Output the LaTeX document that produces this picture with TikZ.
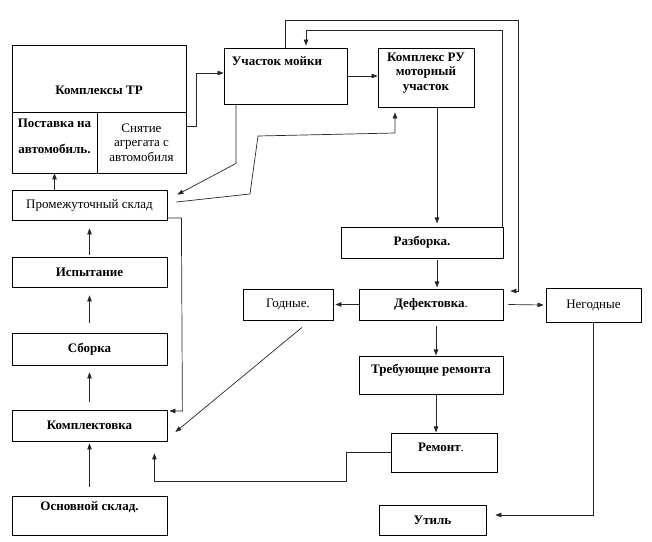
\documentclass[tikz,border=0pt]{standalone}
\usepackage{fontspec}
\setmainfont{Liberation Serif}
\usetikzlibrary{arrows.meta}

\tikzset{
  box/.style={draw=black, line width=0.8pt, inner sep=0pt},
  txt/.style={font=\fontsize{13}{14.5}\selectfont, align=center, inner sep=0pt},
  btxt/.style={txt, font=\fontsize{13}{14.5}\selectfont\bfseries},
  arr/.style={draw=black!85, line width=0.7pt, -{Triangle[length=6pt,width=4.5pt]}}
}

\begin{document}
\begin{tikzpicture}[x=1pt, y=-1pt]
    \useasboundingbox (0,0) rectangle (652,541);

    \node[box, minimum width=174, minimum height=67] (trtop) at (99,78.5) {};
    \node[btxt] (trtext) at (99,90) {Комплексы ТР};
    \node[box, minimum width=85, minimum height=61] (supply) at (54.5,142.5) {};
    \node[btxt] (supplytext) at (54.5,136.5) {Поставка на\\[12pt]автомобиль.};
    \node[box, txt, minimum width=89, minimum height=61] (removal) at (141.5,142.5) {Снятие\\агрегата с\\автомобиля};
    \node[box, txt, minimum width=155, minimum height=30] (store) at (89.5,205) {Промежуточный склад};

    \node[box, minimum width=123, minimum height=56] (wash) at (285.5,76) {};
    \node[btxt] (washtext) at (277,61) {Участок мойки};
    \node[box, minimum width=96, minimum height=59] (ru) at (426,77.5) {};
    \node[btxt] (rutext) at (426,73) {Комплекс РУ\\моторный\\участок};

    \node[box, btxt, minimum width=162, minimum height=31] (disasm) at (422,242.5) {Разборка.};
    \node[box, txt, minimum width=144, minimum height=31] (defect) at (431,304.5) {\textbf{Дефектовка}.};
    \node[box, txt, minimum width=90, minimum height=31] (good) at (288,304.5) {Годные.};
    \node[box, txt, minimum width=95, minimum height=34] (bad) at (593.5,305) {Негодные};
    \node[box, minimum width=144, minimum height=38] (needrep) at (431,375) {};
    \node[btxt] (needreptext) at (431,370) {Требующие ремонта};
    \node[box, minimum width=106, minimum height=39] (repair) at (444,452.5) {};
    \node[txt] (repairtext) at (441,447) {\textbf{Ремонт}.};
    \node[box, btxt, minimum width=107, minimum height=30] (scrap) at (432.5,520) {Утиль};

    \node[box, btxt, minimum width=155, minimum height=30] (test) at (89.5,272) {Испытание};
    \node[box, btxt, minimum width=155, minimum height=32] (asm) at (89.5,349) {Сборка};
    \node[box, btxt, minimum width=155, minimum height=31] (kit) at (89.5,425.5) {Комплектовка};
    \node[box, minimum width=155, minimum height=39] (mainstore) at (89.5,515.5) {};
    \node[btxt] (mainstoretext) at (89.5,507) {Основной склад.};

    \draw[arr] (supply.south |- store.north) -- (supply.south);
    \draw[arr] ([shift={(0,-16.5)}]removal.east) -- ++(10,0) |- ([shift={(0,-3)}]wash.west);
    \draw[arr] (wash.east) -- (ru.west |- wash.east);
    \draw[arr] ([shift={(-49.5,0)}]wash.south) -- ++(0,59) -- ([shift={(10,5)}]store.north east);
    \draw[arr] ([shift={(9,-3)}]store.east) -- (250,194) -- (258,136) -- (395,133) -- ([shift={(-31,5)}]ru.south);
    \draw[arr] (wash.north) |- (518,20) |- ([shift={(7,-13.5)}]defect.east);
    \draw[arr] ([shift={(-1,0)}]disasm.north east) |- (306,30) -- ([shift={(20.5,-2)}]wash.north);
    \draw[arr] ([shift={(11,0)}]ru.south) -- ++(0,116);
    \draw[arr] ([shift={(15,2)}]disasm.south) -- ++(0,27);
    \draw[arr] (defect.west) -- ([shift={(2,0)}]good.east);
    \draw[arr] ([shift={(5,0)}]defect.east) -- ([shift={(-2,0)}]bad.west);
    \draw[arr] ([shift={(5,6)}]defect.south) -- ++(0,29);
    \draw[arr] ([shift={(5,0)}]needrep.south) -- ++(0,38);
    \draw[arr] (bad.south) |- ([shift={(9,-5)}]scrap.east);
    \draw[arr] (repair.west) -- ++(-44,0) |- ([shift={(-13,40)}]kit.south east) -- ([shift={(-13,12)}]kit.south east);
    \draw[arr] ([shift={(14,7)}]good.south) -- ([shift={(8,6.5)}]kit.east);
    \draw[arr] ([shift={(0,13)}]store.east) -- ++(14,0) -- ([shift={(15,-14.5)}]kit.east) -- ([shift={(2,-14.5)}]kit.east);

    \draw[arr, shorten <=2pt, shorten >=8pt] (test.north) -- (store.south);
    \draw[arr, shorten <=10pt, shorten >=8pt] (asm.north) -- (test.south);
    \draw[arr, shorten <=8pt, shorten >=7pt] (kit.north) -- (asm.south);
    \draw[arr, shorten <=9pt, shorten >=2pt] (mainstore.north) -- (kit.south);
\end{tikzpicture}
\end{document}
